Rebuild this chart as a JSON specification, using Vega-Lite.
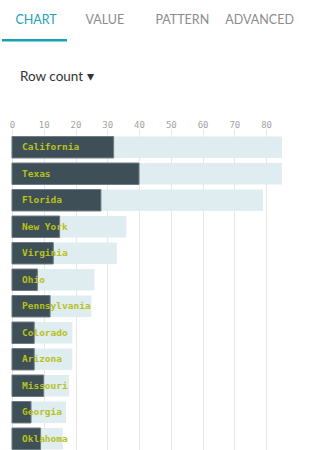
{
  "$schema": "https://vega.github.io/schema/vega-lite/v6.json",
  "padding": 0,
  "background": "white",
  "config": {
    "view": {"stroke": null},
    "font": "Lato",
    "axisX": {
      "domain": false, "ticks": true, "tickColor": "#e6e6e6", "tickSize": 5, "labelPadding": -0.5,
      "labelOverlap": false, "labelBound": false, "labelFlush": false,
      "labelFont": "DejaVu Sans Mono", "labelFontSize": 9, "labelColor": "#a3a3a3",
      "grid": true, "gridColor": "#e6e6e6"
    }
  },
  "datasets": {
    "tabs": [
      {"tab": "CHART", "active": true},
      {"tab": "VALUE", "active": false},
      {"tab": "PATTERN", "active": false},
      {"tab": "ADVANCED", "active": false}
    ],
    "states": [
      {"state": "California", "count": 32, "total": 85},
      {"state": "Texas", "count": 40, "total": 85},
      {"state": "Florida", "count": 28, "total": 79},
      {"state": "New York", "count": 15, "total": 36},
      {"state": "Virginia", "count": 13, "total": 33},
      {"state": "Ohio", "count": 8, "total": 26},
      {"state": "Pennsylvania", "count": 12, "total": 25},
      {"state": "Colorado", "count": 7, "total": 19},
      {"state": "Arizona", "count": 7, "total": 19},
      {"state": "Missouri", "count": 10, "total": 18},
      {"state": "Georgia", "count": 6, "total": 17},
      {"state": "Oklahoma", "count": 9, "total": 16}
    ]
  },
  "vconcat": [
    {
      "spacing": 0,
      "vconcat": [
        {
          "width": 318,
          "height": 39,
          "data": {"name": "tabs"},
          "mark": {"type": "text", "align": "left", "baseline": "middle", "dx": -21.5, "font": "Lato", "fontSize": 12.5},
          "encoding": {
            "x": {
              "field": "tab", "type": "nominal", "sort": null,
              "scale": {"domain": ["CHART", "VALUE", "PATTERN", "ADVANCED"], "range": [2, 281.8], "paddingInner": 0.092, "paddingOuter": 0},
              "axis": null
            },
            "text": {"field": "tab"},
            "color": {"condition": {"test": "datum.active", "value": "#23a3b5"}, "value": "#8c8c8c"}
          }
        },
        {
          "width": 318,
          "height": 2.5,
          "data": {"name": "tabs"},
          "transform": [{"filter": "datum.active"}],
          "mark": {"type": "rect", "color": "#14a2b4"},
          "encoding": {
            "x": {
              "field": "tab", "type": "nominal", "sort": null,
              "scale": {"domain": ["CHART", "VALUE", "PATTERN", "ADVANCED"], "range": [2, 281.8], "paddingInner": 0.092, "paddingOuter": 0},
              "axis": null
            }
          }
        }
      ]
    },
    {
      "width": 282,
      "height": 318,
      "data": {"name": "states"},
      "title": {"text": "Row count ▾", "anchor": "start", "dx": 20, "font": "Lato", "fontSize": 13.5, "fontWeight": "normal", "color": "#333333", "offset": 37.5},
      "encoding": {
        "y": {"field": "state", "type": "nominal", "sort": null, "axis": null, "scale": {"paddingInner": 0.19, "paddingOuter": 0.095}}
      },
      "layer": [
        {
          "mark": {"type": "bar", "color": "#dfedf1"},
          "encoding": {
            "x": {
              "field": "total", "type": "quantitative",
              "scale": {"domain": [-3.77, 85], "nice": false},
              "axis": {"orient": "top", "values": [0, 10, 20, 30, 40, 50, 60, 70, 80], "title": null, "labelOverlap": false}
            }
          }
        },
        {
          "mark": {"type": "bar", "color": "#3e4f58", "stroke": "#6e7d84", "strokeWidth": 1},
          "encoding": {"x": {"field": "count", "type": "quantitative", "axis": {"orient": "top", "values": [0, 10, 20, 30, 40, 50, 60, 70, 80], "title": null, "labelOverlap": false}}}
        },
        {
          "mark": {"type": "text", "align": "left", "baseline": "middle", "dx": 10, "font": "DejaVu Sans Mono", "fontWeight": "bold", "fontSize": 9.5, "color": "#b7c21b"},
          "encoding": {
            "x": {"datum": 0, "type": "quantitative", "axis": {"orient": "top", "values": [0, 10, 20, 30, 40, 50, 60, 70, 80], "title": null, "labelOverlap": false}},
            "text": {"field": "state"}
          }
        }
      ]
    }
  ],
  "spacing": 27
}
